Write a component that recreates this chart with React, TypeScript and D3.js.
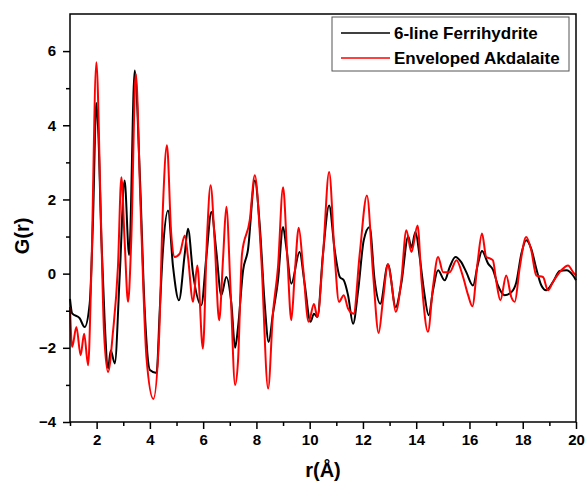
import * as d3 from 'd3';
import { useEffect, useRef } from 'react';

// G(r), r in Å
const rBlack = [1.0, 1.08, 1.36, 1.55, 1.74, 1.86, 1.99, 2.06, 2.18, 2.3, 2.43, 2.53, 2.68, 2.87, 3.05, 3.22, 3.43, 3.62, 3.8, 4.0, 4.25, 4.37, 4.49, 4.68, 4.87, 5.09, 5.31, 5.43, 5.62, 5.93, 6.12, 6.31, 6.49, 6.68, 6.87, 7.06, 7.2, 7.31, 7.5, 7.68, 7.94, 8.12, 8.31, 8.46, 8.62, 8.81, 9.0, 9.12, 9.31, 9.62, 9.81, 10.03, 10.16, 10.29, 10.5, 10.73, 10.94, 11.13, 11.28, 11.44, 11.63, 11.82, 12.03, 12.25, 12.44, 12.65, 12.94, 13.23, 13.44, 13.7, 13.82, 13.97, 14.13, 14.29, 14.47, 14.63, 14.82, 15.07, 15.26, 15.47, 15.69, 15.88, 16.13, 16.32, 16.47, 16.7, 16.88, 17.07, 17.32, 17.57, 17.76, 17.95, 18.13, 18.32, 18.51, 18.7, 18.88, 19.13, 19.39, 19.64, 19.89, 20.0];
const gBlack = [-0.68, -1.07, -1.2, -1.44, -0.8, 1.36, 4.6, 3.86, 0.9, -1.26, -2.55, -2.07, -2.42, 0, 2.51, 0.5, 5.48, 2.7, -0.9, -2.6, -2.68, -0.99, 0.63, 1.7, 0.18, -0.72, 0.54, 1.21, 0, -0.85, 0.45, 1.66, 0.63, -0.58, -0.09, -0.81, -2.0, -1.44, 0.09, 0.63, 2.51, 1.35, -0.81, -1.84, -1.08, -0.18, 1.26, 0.72, -0.27, 0.58, -0.27, -1.3, -1.08, -1.17, 0.54, 1.84, 0.63, -0.09, -0.18, -0.58, -1.35, -0.45, 0.9, 1.26, -0.18, -0.81, 0.25, -0.9, -0.27, 1.0, 0.7, 1.12, 0.45, -0.45, -1.12, -0.45, 0.09, -0.18, 0.18, 0.45, 0.31, 0.04, -0.32, 0.27, 0.61, 0.27, 0.11, -0.32, -0.58, -0.5, -0.23, 0.54, 0.9, 0.67, 0.13, -0.32, -0.45, -0.23, 0.07, 0.09, -0.05, -0.18];

const rRed = [1.0, 1.08, 1.24, 1.4, 1.53, 1.68, 1.8, 1.99, 2.15, 2.28, 2.43, 2.61, 2.8, 2.93, 3.05, 3.18, 3.3, 3.47, 3.65, 3.87, 4.13, 4.34, 4.49, 4.64, 4.8, 4.93, 5.12, 5.31, 5.43, 5.62, 5.78, 5.99, 6.14, 6.28, 6.43, 6.6, 6.75, 6.87, 7.03, 7.2, 7.31, 7.46, 7.75, 7.94, 8.18, 8.44, 8.62, 8.81, 9.0, 9.16, 9.31, 9.44, 9.59, 9.75, 9.96, 10.16, 10.29, 10.5, 10.73, 10.94, 11.1, 11.28, 11.44, 11.65, 11.88, 12.15, 12.38, 12.59, 12.75, 12.94, 13.06, 13.23, 13.44, 13.63, 13.82, 14.05, 14.2, 14.44, 14.63, 14.82, 15.01, 15.26, 15.51, 15.76, 15.95, 16.11, 16.3, 16.47, 16.63, 16.8, 16.88, 17.0, 17.16, 17.38, 17.57, 17.7, 17.89, 18.13, 18.32, 18.51, 18.76, 18.95, 19.13, 19.45, 19.7, 19.89, 20.0];
const gRed = [-0.9, -1.98, -1.44, -2.2, -1.62, -2.47, 0, 5.7, 1.8, -1.61, -2.65, -1.6, 0.18, 2.6, 0.9, -0.76, 0.9, 5.39, 1.8, -2.25, -3.38, -1.8, 1.8, 3.46, 1.08, 0.45, 0.54, 1.03, 0.45, -0.76, 0.22, -2.02, 0.9, 2.38, 0.9, -1.26, 0.45, 1.8, -0.45, -3.0, -2.34, 0.54, 1.44, 2.65, 0.45, -3.1, -1.08, 0.18, 2.33, 0.45, -1.26, 0, 1.24, 0.18, -1.3, -0.82, -1.17, 0.5, 2.74, 0.45, -0.76, -0.58, -0.94, -1.08, 0.54, 2.11, 0, -1.6, -0.72, 0.25, -0.18, -1.03, -0.18, 1.17, 0.58, 1.3, -0.18, -1.57, -0.36, 0.45, 0.04, 0.04, 0.36, -0.09, -0.58, -0.88, 0.27, 1.08, 0.45, 0.4, 0.36, -0.18, -0.72, -0.05, -0.63, -0.76, 0.18, 0.99, 0.63, -0.05, -0.09, -0.45, -0.23, 0.09, 0.22, 0.04, -0.05];

const seriesNames = ['6-line Ferrihydrite', 'Enveloped Akdalaite'];
const seriesColors = ['#000000', '#ff0000'];
const xMajor = [2, 4, 6, 8, 10, 12, 14, 16, 18, 20];
const xMinor = [1, 3, 5, 7, 9, 11, 13, 15, 17, 19];
const yMajor = [-4, -2, 0, 2, 4, 6];
const yMinor = [-3, -1, 1, 3, 5];

const FONT = 'Arial, "Liberation Sans", sans-serif';

const App = () => {
  const svgRef = useRef<SVGSVGElement>(null);

  useEffect(() => {
    const width = 587;
    const height = 486;
    const left = 70, right = 576, top = 14, bottom = 422;

    const x = d3.scaleLinear([1, 20], [left, right]);
    const y = d3.scaleLinear([-4, 7], [bottom, top]);

    const svg = d3.select(svgRef.current);
    svg.selectAll('*').remove();
    svg.attr('width', width).attr('height', height);
    svg.append('rect').attr('width', width).attr('height', height).attr('fill', '#fff');

    const line = d3
      .line<[number, number]>()
      .curve(d3.curveMonotoneX)
      .x((d) => x(d[0]))
      .y((d) => y(d[1]));

    const series = [
      d3.zip(rBlack, gBlack) as [number, number][],
      d3.zip(rRed, gRed) as [number, number][],
    ];

    series.forEach((pts, i) => {
      svg.append('path')
        .attr('d', line(pts))
        .attr('fill', 'none')
        .attr('stroke', seriesColors[i])
        .attr('stroke-width', 2)
        .attr('stroke-linejoin', 'round');
    });

    // frame
    svg.append('rect')
      .attr('x', left).attr('y', top)
      .attr('width', right - left).attr('height', bottom - top)
      .attr('fill', 'none').attr('stroke', '#000').attr('stroke-width', 1.5);

    // x axis
    const gx = svg.append('g').attr('transform', `translate(0,${bottom})`);
    gx.append('g').call(d3.axisBottom(x).tickValues(xMinor).tickSize(4).tickFormat(() => ''));
    gx.append('g').call(d3.axisBottom(x).tickValues(xMajor).tickSize(7).tickPadding(5));
    gx.selectAll('.domain').remove();
    gx.selectAll('.tick line').attr('stroke-width', 1.5);
    gx.selectAll('.tick text').attr('font-size', 15).attr('font-weight', 'bold').attr('font-family', FONT).attr('fill', '#000');

    // y axis
    const gy = svg.append('g').attr('transform', `translate(${left},0)`);
    gy.append('g').call(d3.axisLeft(y).tickValues(yMinor).tickSize(4).tickFormat(() => ''));
    gy.append('g').call(d3.axisLeft(y).tickValues(yMajor).tickSize(7).tickPadding(7));
    gy.selectAll('.domain').remove();
    gy.selectAll('.tick line').attr('stroke-width', 1.5);
    gy.selectAll('.tick text').attr('font-size', 15).attr('font-weight', 'bold').attr('font-family', FONT).attr('fill', '#000');

    // axis titles
    svg.append('text')
      .attr('x', (left + right) / 2).attr('y', 477)
      .attr('text-anchor', 'middle')
      .attr('font-size', 20).attr('font-weight', 'bold').attr('font-family', FONT)
      .text('r(Å)');
    svg.append('text')
      .attr('transform', 'translate(29,236) rotate(-90)')
      .attr('text-anchor', 'middle')
      .attr('font-size', 20).attr('font-weight', 'bold').attr('font-family', FONT)
      .text('G(r)');

    // legend
    const lg = svg.append('g');
    lg.append('rect')
      .attr('x', 332).attr('y', 17).attr('width', 237).attr('height', 54)
      .attr('fill', '#fff').attr('stroke', '#555').attr('stroke-width', 1);
    seriesNames.forEach((name, i) => {
      const cy = 33 + i * 25;
      lg.append('line')
        .attr('x1', 341).attr('x2', 390).attr('y1', cy).attr('y2', cy)
        .attr('stroke', seriesColors[i]).attr('stroke-width', 1.5);
      lg.append('text')
        .attr('x', 394).attr('y', cy + 6)
        .attr('font-size', 17).attr('font-weight', 'bold').attr('font-family', FONT)
        .text(name);
    });
  }, []);

  return (
    <div style={{ position: 'absolute', left: 0, top: 0 }}>
      <svg ref={svgRef} style={{ display: 'block' }} />
    </div>
  );
};

export default App;
